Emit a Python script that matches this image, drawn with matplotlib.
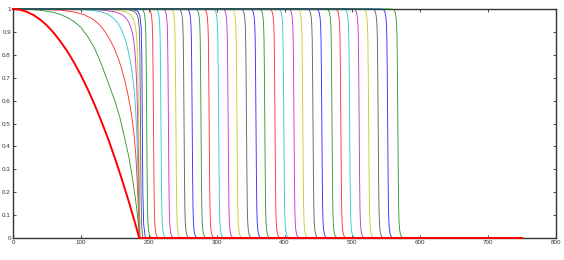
import numpy as np
import matplotlib
matplotlib.use("Agg")
import matplotlib.pyplot as plt

# matlab-ish colour order, cycle starts at green
colors = ['#008000', '#ff0000', '#00bfbf', '#bf00bf', '#bfbf00', '#404040', '#0000ff']

# early, still smooth profiles (x, y)
green_x = [0, 20, 40, 60, 70, 80, 90, 100, 110, 120, 130, 140, 150, 158, 165,
           171, 176, 180, 183, 185, 186]
green_y = [1, 0.999, 0.995, 0.985, 0.976, 0.963, 0.945, 0.92, 0.88, 0.83,
           0.76, 0.68, 0.6, 0.52, 0.43, 0.35, 0.26, 0.18, 0.11, 0.05, 0]
red_x = [0, 40, 70, 90, 105, 118, 128, 136, 143, 149, 155, 160, 164, 168, 172,
         175, 178, 180.5, 182.5, 184.5, 186.5]
red_y = [1, 0.999, 0.995, 0.987, 0.975, 0.955, 0.93, 0.9, 0.865, 0.83, 0.785,
         0.74, 0.695, 0.645, 0.585, 0.53, 0.46, 0.38, 0.28, 0.14, 0]
cyan_x = [0, 80, 110, 130, 140, 148, 154, 159, 163, 166.5, 169.5, 172, 174.5,
          176.5, 178.5, 180.5, 182.3, 184, 185.5, 186.5]
cyan_y = [1, 0.999, 0.996, 0.988, 0.977, 0.96, 0.94, 0.915, 0.885, 0.855,
          0.82, 0.785, 0.745, 0.7, 0.645, 0.57, 0.46, 0.3, 0.13, 0]
magenta_x = [0, 100, 130, 150, 160, 166, 170, 173, 175.5, 177.5, 179.2, 180.7,
             182, 183.3, 184.6, 185.8, 187]
magenta_y = [1, 0.999, 0.996, 0.988, 0.977, 0.962, 0.945, 0.925, 0.9, 0.87,
             0.83, 0.77, 0.69, 0.57, 0.4, 0.2, 0]
yellow_x = [0, 130, 155, 168, 174, 177.5, 180, 181.8, 183, 184, 185, 186, 187]
yellow_y = [1, 0.999, 0.995, 0.986, 0.972, 0.955, 0.93, 0.89, 0.83, 0.72,
            0.52, 0.25, 0]
black_x = [0, 150, 170, 178, 182, 184.5, 186, 187, 187.8, 188.6, 189.5, 191]
black_y = [1, 0.999, 0.997, 0.99, 0.98, 0.96, 0.92, 0.8, 0.5, 0.2, 0.06, 0]
blue_x = [0, 165, 178, 184, 187, 188.8, 189.8, 190.5, 191.3, 192.5, 195]
blue_y = [1, 0.999, 0.997, 0.99, 0.97, 0.92, 0.8, 0.5, 0.2, 0.06, 0]

smooth_x = [green_x, red_x, cyan_x, magenta_x, yellow_x, black_x, blue_x]
smooth_y = [green_y, red_y, cyan_y, magenta_y, yellow_y, black_y, blue_y]

# steep fronts: half-height position of each later profile
fronts = [197, 207, 218, 229, 240, 252, 264, 277, 289, 303, 317, 330, 344,
          358, 371, 386, 399, 414, 427, 442, 455, 470, 483, 496, 510, 524,
          538, 552, 567]
# shape of one front, offsets from the half-height point
front_dx = [-12, -8, -6, -4.5, -3.5, -2.5, -1.8, -1.2, -0.6, 0, 0.6, 1.2, 1.8,
            2.5, 3.5, 4.5, 6, 8, 12]
front_y = [1, 0.999, 0.997, 0.99, 0.98, 0.96, 0.93, 0.87, 0.72, 0.5, 0.28,
           0.13, 0.07, 0.04, 0.02, 0.01, 0.004, 0.001, 0]

# reference solution (thick red)
ref_x = [0, 10, 20, 30, 40, 50, 60, 70, 80, 90, 100, 110, 120, 130, 140, 150,
         160, 170, 180, 186, 750]
ref_y = [1, 0.997, 0.988, 0.974, 0.954, 0.928, 0.896, 0.858, 0.815, 0.766,
         0.711, 0.65, 0.584, 0.511, 0.434, 0.35, 0.26, 0.165, 0.064, 0, 0]

x_end = 750

fig = plt.figure(figsize=(5.64, 2.6), dpi=100)
ax = fig.add_axes([13 / 564, 1 - 238 / 260, 543 / 564, 229 / 260])

k = 0
for xs, ys in zip(smooth_x, smooth_y):
    ax.plot(xs + [x_end], ys + [0], color=colors[k % 7], lw=0.65, alpha=0.8,
            clip_on=False, zorder=3)
    k += 1

for f in fronts:
    xs = np.concatenate([[0], f + np.array(front_dx), [x_end]])
    ys = np.concatenate([[1], front_y, [0]])
    ax.plot(xs, ys, color=colors[k % 7], lw=0.65, alpha=0.8, clip_on=False,
            zorder=3)
    k += 1

ax.plot(ref_x, ref_y, color='#ff0000', lw=1.4, clip_on=False, zorder=4)

ax.set_xlim(0, 800)
ax.set_ylim(0, 1)
ax.set_xticks(np.arange(0, 801, 100))
ax.set_yticks(np.arange(0, 1.01, 0.1))
ax.set_yticklabels(['0', '0.1', '0.2', '0.3', '0.4', '0.5', '0.6', '0.7',
                    '0.8', '0.9', '1'])
ax.tick_params(direction='in', length=2.5, width=0.5, top=True, right=True,
               labelsize=4.5, labelcolor='#333333', pad=1.5)
for s in ax.spines.values():
    s.set_linewidth(1.0)
    s.set_color('#333333')
for lab in ax.get_xticklabels() + ax.get_yticklabels():
    lab.set_family('Liberation Sans')

fig.savefig('out.png', dpi=100)
